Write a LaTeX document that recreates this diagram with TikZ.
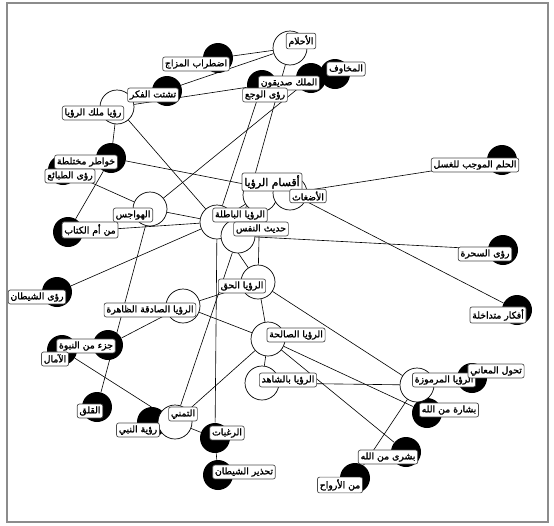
\documentclass[tikz,border=0pt]{standalone}
\usepackage{fontspec}
\newfontfamily\arabicfont[Script=Arabic,FakeBold=1.6]{DejaVu Sans}
\TeXXeTstate=1
\usetikzlibrary{backgrounds}

\tikzset{
	opencirc/.style={circle, draw, fill=white, line width=0.4pt, minimum size=0.68cm, inner sep=0pt},
	fullcirc/.style={circle, fill=black, minimum size=0.6cm, inner sep=0pt},
	tag/.style={draw=black!70, fill=white, rounded corners=1.2pt, inner sep=1.3pt, line width=0.4pt, font=\fontsize{5.3}{6}\selectfont\arabicfont},
	link/.style={line width=0.35pt}
}

\begin{document}
\begin{tikzpicture}[x=0.02cm, y=-0.02cm]
	\useasboundingbox (0,0) rectangle (554,525);
	\draw[black!45, line width=0.6pt] (7,3) rectangle (548,522);

	% black circles
	\node[fullcirc] (idtirab) at (218,58) {};
	\node[fullcirc] (tashattut) at (167,91) {};
	\node[fullcirc] (wajaa) at (262,85) {};
	\node[fullcirc] (malik) at (311,78) {};
	\node[fullcirc] (makhawif) at (335,74) {};
	\node[fullcirc] (khawatir) at (111,158) {};
	\node[fullcirc] (tabaie) at (63,170) {};
	\node[fullcirc] (ummkitab) at (68,232) {};
	\node[fullcirc] (shaytan) at (57,292) {};
	\node[fullcirc] (amal) at (62,350) {};
	\node[fullcirc] (juz) at (108,345) {};
	\node[fullcirc] (qalaq) at (97,407) {};
	\node[fullcirc] (nabi) at (152,422) {};
	\node[fullcirc] (raghabat) at (215,438) {};
	\node[fullcirc] (tahdhir) at (218,475) {};
	\node[fullcirc] (ghusl) at (502,160) {};
	\node[fullcirc] (sahara) at (503,250) {};
	\node[fullcirc] (afkar) at (517,310) {};
	\node[fullcirc] (tahawwul) at (472,378) {};
	\node[fullcirc] (bishara) at (427,413) {};
	\node[fullcirc] (bushra) at (406,452) {};
	\node[fullcirc] (arwah) at (355,478) {};

	% open circles
	\node[opencirc] (ahlam) at (290,48) {};
	\node[opencirc] (malakru) at (117,107) {};
	\node[opencirc] (hawajis) at (150,209) {};
	\node[opencirc] (aqsam) at (260,195) {};
	\node[opencirc] (adghath) at (290,193) {};
	\node[opencirc] (batila) at (217,222) {};
	\node[opencirc] (hadith) at (238,236) {};
	\node[opencirc] (haqq) at (258,282) {};
	\node[opencirc] (sadiqa) at (183,306) {};
	\node[opencirc] (saliha) at (268,339) {};
	\node[opencirc] (shahid) at (262,383) {};
	\node[opencirc] (tamanni) at (175,422) {};
	\node[opencirc] (marmuza) at (417,385) {};

	\begin{scope}[on background layer]
		\draw[link] (ahlam) -- (idtirab);
		\draw[link] (ahlam) -- (malakru);
		\draw[link] (ahlam) -- (hadith);
		\draw[link] (malakru) -- (wajaa);
		\draw[link] (malakru) -- (khawatir);
		\draw[link] (malakru) -- (batila);
		\draw[link] (wajaa) -- (batila);
		\draw[link] (malik) -- (hawajis);
		\draw[link] (khawatir) -- (adghath);
		\draw[link] (khawatir) -- (ummkitab);
		\draw[link] (tabaie) -- (hawajis);
		\draw[link] (hawajis) -- (batila);
		\draw[link] (hawajis) -- (qalaq);
		\draw[link] (ummkitab) -- (batila);
		\draw[link] (shaytan) -- (batila);
		\draw[link] (batila) -- (raghabat);
		\draw[link] (batila) -- (aqsam);
		\draw[link] (batila) -- (haqq);
		\draw[link] (hadith) -- (sahara);
		\draw[link] (hadith) -- (tamanni);
		\draw[link] (aqsam) -- (haqq);
		\draw[link] (adghath) -- (ghusl);
		\draw[link] (adghath) -- (afkar);
		\draw[link] (haqq) -- (sadiqa);
		\draw[link] (haqq) -- (saliha);
		\draw[link] (haqq) -- (marmuza);
		\draw[link] (sadiqa) -- (juz);
		\draw[link] (sadiqa) -- (saliha);
		\draw[link] (saliha) -- (shahid);
		\draw[link] (saliha) -- (tamanni);
		\draw[link] (saliha) -- (bishara);
		\draw[link] (saliha) -- (bushra);
		\draw[link] (shahid) -- (marmuza);
		\draw[link] (marmuza) -- (arwah);
		\draw[link] (tamanni) -- (amal);
		\draw[link] (tamanni) -- (raghabat);
		\draw[link] (raghabat) -- (tahdhir);
	\end{scope}

	% labels
	\node[tag] (idtirabL) at (196,64) {\beginR اضطراب المزاج\endR};
	\node[tag] (tashattutL) at (153,95) {\beginR تشتت الفكر\endR};
	\node[tag] (malikL) at (289,83) {\beginR الملك صديقون\endR};
	\node[tag] (wajaaL) at (265,95) {\beginR رؤى الوجع\endR};
	\node[tag] (makhawifL) at (346,69) {\beginR المخاوف\endR};
	\node[tag] (ahlamL) at (301,41) {\beginR الأحلام\endR};
	\node[tag] (malakruL) at (93,113) {\beginR رؤيا ملك الرؤيا\endR};
	\node[tag] (khawatirL) at (86,162) {\beginR خواطر مختلطة\endR};
	\node[tag] (tabaieL) at (70,176) {\beginR رؤى الطبائع\endR};
	\node[tag] (hawajisL) at (133,215) {\beginR الهواجس\endR};
	\node[tag] (ummkitabL) at (90,230) {\beginR من أم الكتاب\endR};
	\node[tag, font=\fontsize{6.2}{7}\selectfont\arabicfont] (aqsamL) at (272,182) {\beginR أقسام الرؤيا\endR};
	\node[tag] (adghathL) at (308,196) {\beginR الأضغاث\endR};
	\node[tag] (batilaL) at (240,215) {\beginR الرؤيا الباطلة\endR};
	\node[tag] (hadithL) at (261,229) {\beginR حديث النفس\endR};
	\node[tag] (shaytanL) at (37,297) {\beginR رؤى الشيطان\endR};
	\node[tag] (haqqL) at (242,286) {\beginR الرؤيا الحق\endR};
	\node[tag] (sadiqaL) at (150,310) {\beginR الرؤيا الصادقة الظاهرة\endR};
	\node[tag] (salihaL) at (296,335) {\beginR الرؤيا الصالحة\endR};
	\node[tag] (juzL) at (86,346) {\beginR جزء من النبوة\endR};
	\node[tag] (amalL) at (55,359) {\beginR الآمال\endR};
	\node[tag] (shahidL) at (288,380) {\beginR الرؤيا بالشاهد\endR};
	\node[tag] (marmuzaL) at (444,380) {\beginR الرؤيا المرموزة\endR};
	\node[tag] (tahawwulL) at (496,371) {\beginR تحول المعاني\endR};
	\node[tag] (qalaqL) at (90,411) {\beginR القلق\endR};
	\node[tag] (tamanniL) at (183,414) {\beginR التمني\endR};
	\node[tag] (nabiL) at (138,430) {\beginR رؤية النبي\endR};
	\node[tag] (raghabatL) at (227,433) {\beginR الرغبات\endR};
	\node[tag] (bisharaL) at (449,410) {\beginR بشارة من الله\endR};
	\node[tag] (bushraL) at (388,457) {\beginR بشرى من الله\endR};
	\node[tag] (tahdhirL) at (244,472) {\beginR تحذير الشيطان\endR};
	\node[tag] (arwahL) at (340,485) {\beginR من الأرواح\endR};
	\node[tag] (ghuslL) at (475,165) {\beginR الحلم الموجب للغسل\endR};
	\node[tag] (saharaL) at (485,254) {\beginR رؤى السحرة\endR};
	\node[tag] (afkarL) at (498,315) {\beginR أفكار متداخلة\endR};
\end{tikzpicture}
\end{document}
